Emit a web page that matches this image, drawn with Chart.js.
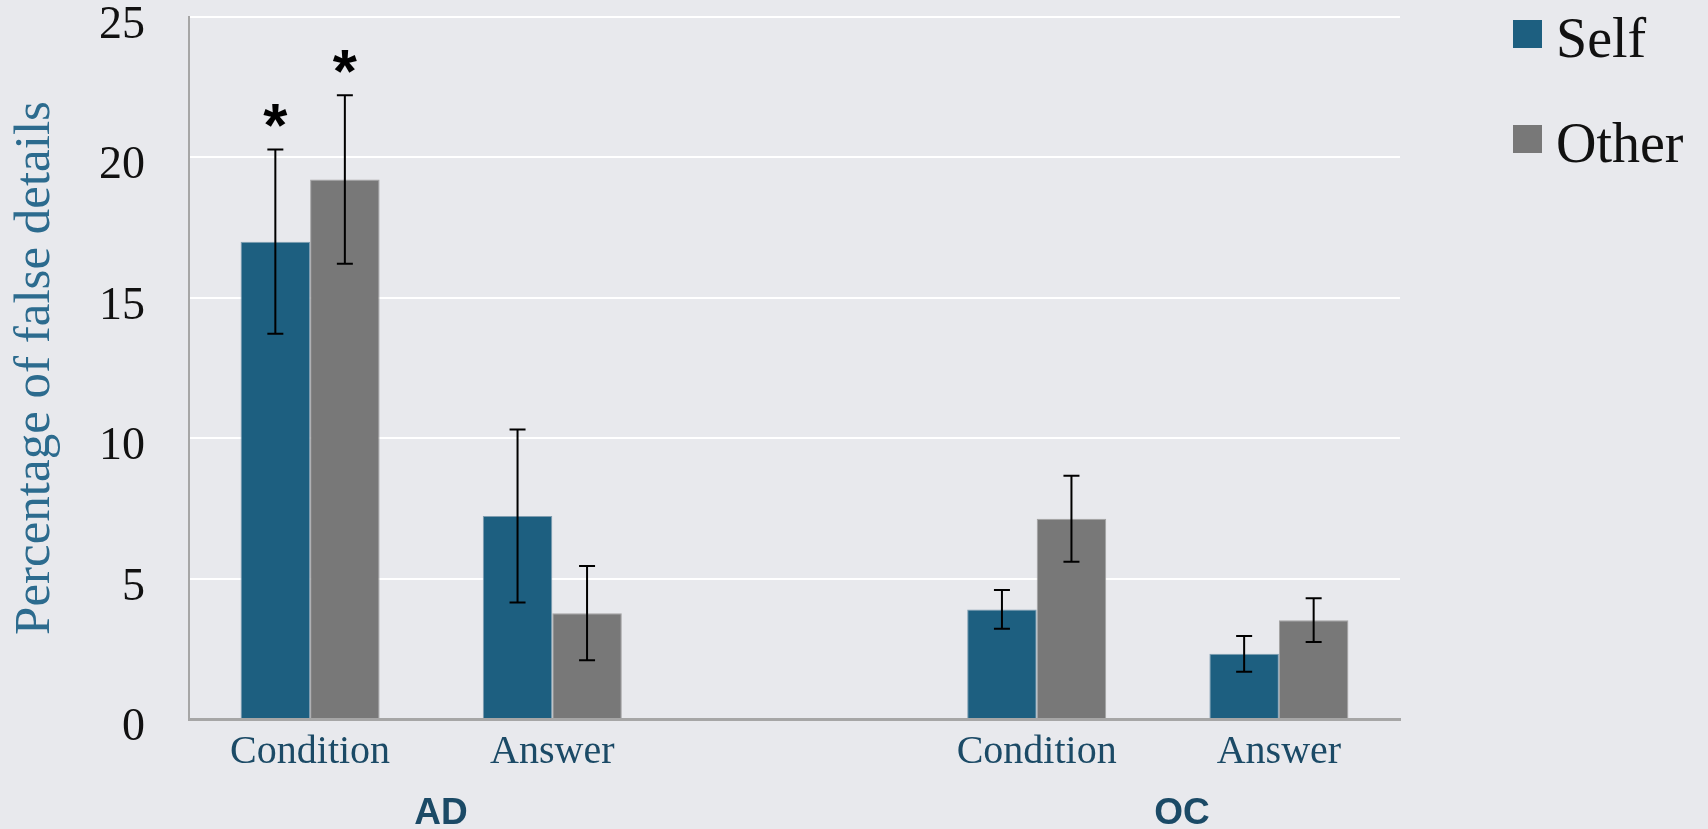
<!DOCTYPE html>
<html>
<head>
<meta charset="utf-8">
<title>Percentage of false details</title>
<script src="https://cdn.jsdelivr.net/npm/chart.js@4/dist/chart.umd.min.js"></script>
<style>
  html, body { margin: 0; padding: 0; background: #e8e9ed; }
  #wrap { width: 1708px; height: 829px; }
  canvas { display: block; }
</style>
</head>
<body>
<div id="wrap"><canvas id="chart" width="1708" height="829"></canvas></div>
<script>
// Categories: two per group, with an empty slot separating AD from OC
const categories = ['Condition', 'Answer', '', 'Condition', 'Answer'];
const seriesNames = ['Self', 'Other'];

// Mean percentage of false details
const selfMeans  = [17.0, 7.23, null, 3.90, 2.32];
const otherMeans = [19.21, 3.77, null, 7.13, 3.52];

// Error bar half-lengths
const selfErrors  = [3.28, 3.08, null, 0.69, 0.64];
const otherErrors = [3.00, 1.68, null, 1.53, 0.78];

// Significance markers drawn above the error bars
const selfSignificant  = [true, false, false, false, false];
const otherSignificant = [true, false, false, false, false];

// Group labels under the category labels, centred in category-index units
const groupNames   = ['AD', 'OC'];
const groupCenters = [0.54, 3.6];

const yTicks = [0, 5, 10, 15, 20, 25];

const COLORS = {
  self: '#1d5f80',
  other: '#787878',
  background: '#e8e9ed'
};

const errorSets = [selfErrors, otherErrors];
const sigSets = [selfSignificant, otherSignificant];

// Page background
const backgroundPlugin = {
  id: 'background',
  beforeDraw(chart) {
    const ctx = chart.ctx;
    ctx.save();
    ctx.fillStyle = COLORS.background;
    ctx.fillRect(0, 0, chart.width, chart.height);
    ctx.restore();
  }
};

// Error bars and significance asterisks
const errorBarPlugin = {
  id: 'errorBars',
  afterDatasetsDraw(chart) {
    const ctx = chart.ctx;
    const y = chart.scales.y;
    ctx.save();
    chart.data.datasets.forEach((ds, i) => {
      const meta = chart.getDatasetMeta(i);
      const errs = errorSets[i];
      const sig = sigSets[i];
      meta.data.forEach((bar, j) => {
        const v = ds.data[j];
        const e = errs[j];
        if (v === null || e === null) return;
        const x = bar.x;
        const top = y.getPixelForValue(v + e);
        const bot = y.getPixelForValue(v - e);
        ctx.strokeStyle = '#000';
        ctx.lineWidth = 2;
        ctx.beginPath();
        ctx.moveTo(x, top); ctx.lineTo(x, bot);
        ctx.moveTo(x - 8, top); ctx.lineTo(x + 8, top);
        ctx.moveTo(x - 8, bot); ctx.lineTo(x + 8, bot);
        ctx.stroke();
        if (sig[j]) {
          ctx.font = 'bold 62px "Liberation Sans", Arial, sans-serif';
          ctx.fillStyle = '#000';
          ctx.textAlign = 'center';
          ctx.textBaseline = 'alphabetic';
          const m = ctx.measureText('*');
          const cy = top - 34;
          const base = cy + (m.actualBoundingBoxAscent - m.actualBoundingBoxDescent) / 2;
          ctx.fillText('*', x, base);
        }
      });
    });
    ctx.restore();
  }
};

// Group labels (AD / OC) beneath the category axis
const groupLabelPlugin = {
  id: 'groupLabels',
  afterDraw(chart) {
    const ctx = chart.ctx;
    const x = chart.scales.x;
    const x0 = x.getPixelForValue(0);
    const step = x.getPixelForValue(1) - x0;
    ctx.save();
    ctx.font = 'bold 37px "Liberation Sans", Arial, sans-serif';
    ctx.fillStyle = '#1b4a66';
    ctx.textAlign = 'center';
    ctx.textBaseline = 'alphabetic';
    groupNames.forEach((name, k) => {
      ctx.fillText(name, x0 + groupCenters[k] * step, chart.chartArea.bottom + 105);
    });
    ctx.restore();
  }
};

// Legend drawn to the right of the plot area
const sideLegendPlugin = {
  id: 'sideLegend',
  afterDraw(chart) {
    const ctx = chart.ctx;
    const left = chart.chartArea.right + 113;
    ctx.save();
    ctx.font = '56px "Liberation Serif", "Times New Roman", serif';
    ctx.textAlign = 'left';
    ctx.textBaseline = 'alphabetic';
    chart.data.datasets.forEach((ds, i) => {
      const top = 20 + i * 105;
      ctx.fillStyle = ds.backgroundColor;
      ctx.fillRect(left, top, 29, 28);
      ctx.fillStyle = '#111';
      ctx.fillText(ds.label, left + 43, top + 37);
    });
    ctx.restore();
  }
};

new Chart(document.getElementById('chart'), {
  type: 'bar',
  data: {
    labels: categories,
    datasets: [
      {
        label: seriesNames[0],
        data: selfMeans,
        backgroundColor: COLORS.self,
        borderColor: '#7f9db0',
        borderWidth: 1,
        borderSkipped: 'bottom'
      },
      {
        label: seriesNames[1],
        data: otherMeans,
        backgroundColor: COLORS.other,
        borderColor: '#a3a3a3',
        borderWidth: 1,
        borderSkipped: 'bottom'
      }
    ]
  },
  options: {
    responsive: false,
    devicePixelRatio: 1,
    animation: false,
    barPercentage: 1,
    categoryPercentage: 0.574,
    layout: { padding: { top: 17, right: 308, left: 0, bottom: 0 } },
    plugins: {
      legend: { display: false },
      tooltip: { enabled: false }
    },
    scales: {
      x: {
        offset: true,
        grid: { display: false, drawTicks: false },
        border: { display: true, color: '#a6a6a6', width: 3 },
        ticks: {
          padding: 9,
          color: '#1b4a66',
          font: { family: '"Liberation Serif", "Times New Roman", serif', size: 40 },
          maxRotation: 0,
          autoSkip: false
        },
        afterFit(scale) {
          scale.height = 110;
          scale.paddingLeft = 0;
          scale.paddingRight = 0;
        }
      },
      y: {
        min: 0,
        max: 25,
        afterBuildTicks(scale) { scale.ticks = yTicks.map(v => ({ value: v })); },
        grid: { color: '#ffffff', lineWidth: 2, drawTicks: false },
        border: { display: true, color: '#a6a6a6', width: 2 },
        ticks: {
          padding: 44,
          labelOffset: 9,
          color: '#111111',
          font: { family: '"Liberation Serif", "Times New Roman", serif', size: 46 }
        },
        title: {
          display: true,
          text: 'Percentage of false details',
          color: '#2c6b8e',
          padding: { top: 5, bottom: 0 },
          font: { family: '"Liberation Serif", "Times New Roman", serif', size: 51 }
        },
        afterFit(scale) {
          scale.width = 189;
          scale.paddingTop = 0;
          scale.paddingBottom = 0;
        }
      }
    }
  },
  plugins: [backgroundPlugin, errorBarPlugin, groupLabelPlugin, sideLegendPlugin]
});
</script>
</body>
</html>
